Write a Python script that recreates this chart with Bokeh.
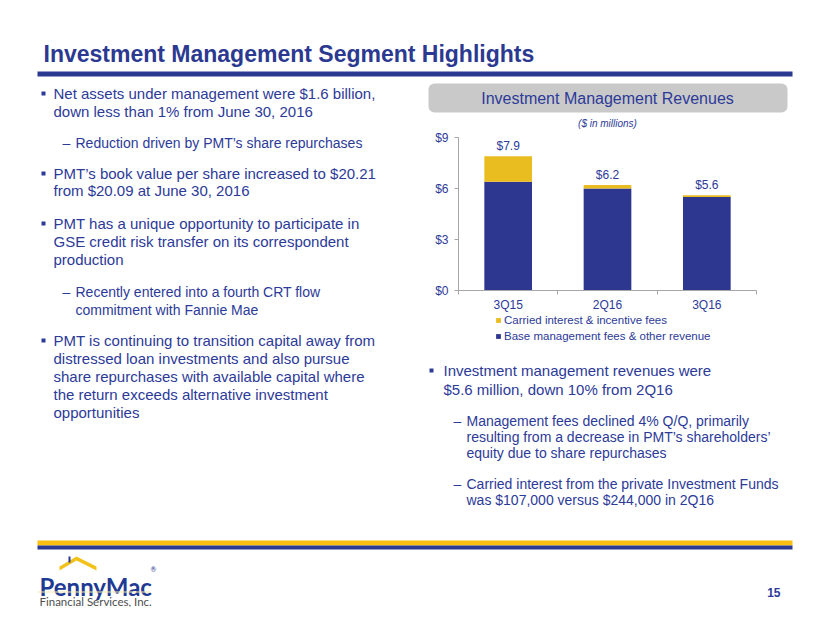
from bokeh.plotting import figure
from bokeh.models import (ColumnDataSource, Range1d, FixedTicker, NumeralTickFormatter, LinearAxis,
                          Label, LabelSet, BoxAnnotation, PolyAnnotation, Legend, LegendItem)
from bokeh.embed import file_html
from bokeh.resources import INLINE
from bokeh.core.properties import value

# ---------------- data ----------------
categories = ["3Q15", "2Q16", "3Q16"]
base_fees = [6.4, 6.0, 5.5]
carried_fees = [1.5, 0.2, 0.1]
y_ticks = [0, 3, 6, 9]
series_names = ["Base management fees & other revenue", "Carried interest & incentive fees"]

title_text = "Investment Management Segment Highlights"
chart_title = "Investment Management Revenues"
chart_subtitle = "($ in millions)"

left_lines = [
    ("b", "Net assets under management were $1.6 billion,"),
    ("c", "down less than 1% from June 30, 2016"),
    ("s", "Reduction driven by PMT\u2019s share repurchases"),
    ("b", "PMT\u2019s book value per share increased to $20.21"),
    ("c", "from $20.09 at June 30, 2016"),
    ("b", "PMT has a unique opportunity to participate in"),
    ("c", "GSE credit risk transfer on its correspondent"),
    ("c", "production"),
    ("s", "Recently entered into a fourth CRT flow"),
    ("sc", "commitment with Fannie Mae"),
    ("b", "PMT is continuing to transition capital away from"),
    ("c", "distressed loan investments and also pursue"),
    ("c", "share repurchases with available capital where"),
    ("c", "the return exceeds alternative investment"),
    ("c", "opportunities"),
]
left_y = [93, 111, 142, 173, 190, 223, 241, 259, 291, 309, 340, 358, 376, 394, 412]

right_lines = [
    ("b", "Investment management revenues were"),
    ("c", "$5.6 million, down 10% from 2Q16"),
    ("s", "Management fees declined 4% Q/Q, primarily"),
    ("sc", "resulting from a decrease in PMT\u2019s shareholders\u2019"),
    ("sc", "equity due to share repurchases"),
    ("s", "Carried interest from the private Investment Funds"),
    ("sc", "was $107,000 versus $244,000 in 2Q16"),
]
right_y = [370, 389, 420, 436, 452, 483, 499]

page_number = "15"

# ---------------- styles / layout ----------------
NAVY_TXT = "#2C3A98"
NAVY_BAR = "#2E3790"
GOLD_BAR = "#E9BD1F"
RULE_NAVY = "#2B3990"
RULE_GOLD = "#FDC010"
AXIS_GRAY = "#A6A6A6"
FONT = "Liberation Sans"
LOGO_FONT = "Lato"

W, H = 814, 607                      # canvas (page pixels)
CH_L, CH_R, CH_T, CH_B = 458, 756, 137, 290   # chart plot area in page pixels

xs = [i + 1 for i in range(len(categories))]
x_lo, x_hi = 0.5, len(categories) + 0.5
y_lo, y_hi = y_ticks[0], y_ticks[-1]
totals = [round(b + c, 1) for b, c in zip(base_fees, carried_fees)]
value_labels = ["$%.1f" % t for t in totals]

src = ColumnDataSource(dict(x=xs, cat=categories, base=base_fees, carried=carried_fees,
                            total=totals, label=value_labels))

p = figure(width=W, height=H, min_border=0,
           x_range=Range1d(0, W), y_range=Range1d(H, 0),
           x_axis_location=None, y_axis_location=None,
           output_backend="svg", toolbar_location=None)
p.background_fill_color = "white"
p.border_fill_color = "white"
p.outline_line_color = None
p.grid.visible = False

# chart ranges: data range x_lo..x_hi / y_lo..y_hi fills the chart plot area
sx = (x_hi - x_lo) / (CH_R - CH_L)
sy = (y_hi - y_lo) / (CH_B - CH_T)
p.extra_x_ranges = {"cx": Range1d(x_lo - CH_L * sx, x_hi + (W - CH_R) * sx)}
p.extra_y_ranges = {"cy": Range1d(y_lo - (H - CH_B) * sy, y_hi + CH_T * sy)}

# ---------------- slide decorations ----------------
def box(l, r, t, b, color, radius=0, line=None):
    p.add_layout(BoxAnnotation(left=l, right=r, top=t, bottom=b,
                               fill_color=color, fill_alpha=1, line_color=line, border_radius=radius))


def txt(x, y, s, size, style="normal", color=NAVY_TXT, align="left", baseline="middle", font=FONT):
    p.add_layout(Label(x=x, y=y, text=s,
                       text_font=font, text_font_size=f"{size}px", text_font_style=style,
                       text_color=color, text_align=align, text_baseline=baseline))


# title and rules
txt(43, 53, title_text, 23, style="bold", color=RULE_NAVY, baseline="alphabetic")
box(37, 792, 71, 76, RULE_NAVY)
box(37, 792, 540, 545, RULE_GOLD)
box(37, 792, 545, 549, RULE_NAVY)

# chart header
box(428, 787, 83, 112, "#C9C9C9", radius=6)
txt(607, 98, chart_title, 16, align="center")
txt(607, 123, chart_subtitle, 10, style="italic", align="center")

# left column
for (kind, s), y in zip(left_lines, left_y):
    if kind == "b":
        box(41, 45, y - 2, y + 2, NAVY_TXT)
        txt(53, y, s, 15)
    elif kind == "c":
        txt(53, y, s, 15)
    elif kind == "s":
        txt(62, y, "\u2013", 14)
        txt(75, y, s, 14)
    else:
        txt(75, y, s, 14)

# right column
for (kind, s), y in zip(right_lines, right_y):
    if kind == "b":
        box(429, 433, y - 2, y + 2, NAVY_TXT)
        txt(443, y, s, 15)
    elif kind == "c":
        txt(443, y, s, 15)
    elif kind == "s":
        txt(453, y, "\u2013", 14)
        txt(466, y, s, 14)
    else:
        txt(466, y, s, 14)

# logo
p.add_layout(PolyAnnotation(xs=[59, 76, 96, 96, 76, 59], ys=[566, 556, 566, 570, 560, 570],
                            fill_color="#F2C21B", fill_alpha=1, line_color=None))
box(68, 70, 556, 562, RULE_NAVY)
txt(39, 586, "PennyMac", 24, style="bold", color="#1F3A93", baseline="alphabetic", font=LOGO_FONT)
txt(150, 568, "\u00ae", 7, color="#1F3A93", font=LOGO_FONT)
box(37, 150, 591, 592, "#F6E7B0")
txt(39, 601, "Financial Services, Inc.", 11.5, color="#4D4D4D", baseline="alphabetic", font=LOGO_FONT)

# page number
txt(780, 592, page_number, 12, style="bold", align="right")

# ---------------- chart ----------------
rs = p.vbar_stack(["base", "carried"], x="x", width=0.48, source=src,
                  fill_color=[NAVY_BAR, GOLD_BAR], line_color=None,
                  x_range_name="cx", y_range_name="cy")

yax = LinearAxis(x_range_name="cx", y_range_name="cy", fixed_location=x_lo, bounds=(y_lo, y_hi),
                 ticker=FixedTicker(ticks=y_ticks, minor_ticks=[]),
                 formatter=NumeralTickFormatter(format="$0"),
                 major_tick_out=4, major_tick_in=0, major_tick_line_color=AXIS_GRAY,
                 axis_line_color=AXIS_GRAY, major_label_standoff=6,
                 major_label_text_font=FONT, major_label_text_font_size="12px",
                 major_label_text_color=NAVY_TXT)
p.add_layout(yax, "left")

xax = LinearAxis(x_range_name="cx", y_range_name="cy", fixed_location=y_lo, bounds=(x_lo, x_hi),
                 ticker=FixedTicker(ticks=xs, minor_ticks=[x - 0.5 for x in xs] + [xs[-1] + 0.5]),
                 major_label_overrides={x: c for x, c in zip(xs, categories)},
                 major_tick_out=0, major_tick_in=0,
                 minor_tick_out=4, minor_tick_in=0, minor_tick_line_color=AXIS_GRAY,
                 axis_line_color=AXIS_GRAY, major_label_standoff=3,
                 major_label_text_font=FONT, major_label_text_font_size="12px",
                 major_label_text_color=NAVY_TXT)
p.add_layout(xax, "below")

p.add_layout(LabelSet(x="x", y="total", text="label", source=src, text_align="center",
                      text_baseline="middle", y_offset=10, text_color=NAVY_TXT,
                      text_font=value(FONT), text_font_size="12px",
                      x_range_name="cx", y_range_name="cy"))

legend = Legend(items=[LegendItem(label=series_names[1], renderers=[rs[1]]),
                       LegendItem(label=series_names[0], renderers=[rs[0]])],
                location=(495, H - 342), orientation="vertical",
                border_line_color=None, background_fill_alpha=0,
                padding=0, margin=0, spacing=4, glyph_width=6, glyph_height=6,
                label_standoff=3, label_height=12,
                label_text_font=FONT, label_text_font_size="11.5px", label_text_color=NAVY_TXT)
p.add_layout(legend, "center")

open("out.html", "w").write(file_html(p, INLINE))
